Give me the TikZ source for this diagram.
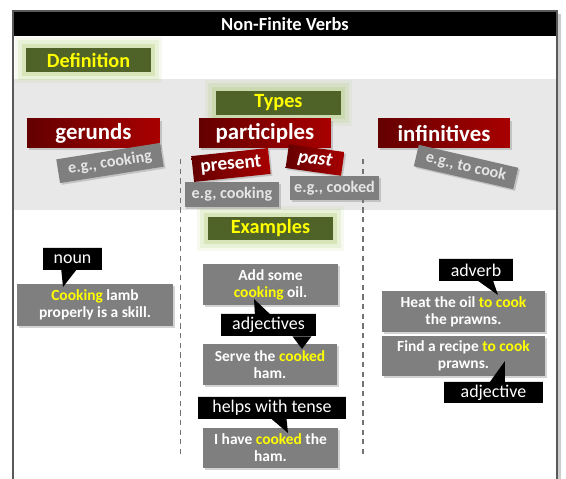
\documentclass[tikz,border=0pt]{standalone}
\usepackage{fontspec}
\setmainfont{Carlito}
\usetikzlibrary{shadows,shapes.callouts}
\definecolor{olivebox}{HTML}{4F6228}
\definecolor{glowgreen}{HTML}{B5CF7E}
\definecolor{hilite}{HTML}{FFFF00}
\definecolor{darkred}{HTML}{640000}
\definecolor{brightred}{HTML}{A80000}
\definecolor{boxgrey}{HTML}{7F7F7F}
\definecolor{bandgrey}{HTML}{E8E8E8}
\newcommand{\keyword}[1]{\textcolor{hilite}{#1}}
\begin{document}
\begin{tikzpicture}[x=0.02cm,y=-0.02cm]
        \tikzstyle{heading}=[fill=olivebox,text=hilite,font=\fontsize{11.5}{13}\selectfont\bfseries,inner sep=0pt,
          preaction={draw=glowgreen,line width=13pt,opacity=.12,rounded corners=6pt},
          preaction={draw=glowgreen,line width=9pt,opacity=.2,rounded corners=4pt},
          preaction={draw=glowgreen,line width=5pt,opacity=.35,rounded corners=2pt}]
        \tikzstyle{kind}=[left color=darkred,right color=brightred,text=white,font=\fontsize{13}{15}\selectfont\bfseries,inner sep=0pt,
          drop shadow={opacity=.35,shadow xshift=1pt,shadow yshift=-1pt}]
        \tikzstyle{sample}=[fill=boxgrey,text=black!10,font=\fontsize{9.2}{11}\selectfont\bfseries,inner sep=0pt,
          drop shadow={opacity=.35,shadow xshift=1pt,shadow yshift=-1pt}]
        \tikzstyle{sentence}=[fill=boxgrey,text=white,font=\fontsize{8.8}{9.8}\selectfont\bfseries,align=center,inner sep=0pt,
          drop shadow={opacity=.35,shadow xshift=1.2pt,shadow yshift=-1.2pt}]
        \tikzstyle{note}=[rectangle callout,fill=black,text=white,font=\fontsize{10.2}{12}\selectfont,inner sep=0pt,callout pointer width=0.3cm]
        \tikzstyle{divider}=[draw=black!55,line width=0.8pt,dash pattern=on 3pt off 2.5pt]
        \useasboundingbox (0,0) rectangle (566,479);
        \begin{scope}
           \fill[bandgrey] (13,79) rectangle (557,210);
           \fill[black] (13,11) rectangle (557,36);
           \draw[black!20,line width=2pt] (559.5,14) -- (559.5,479);
           \draw[black!65,line width=0.8pt] (13,479) -- (13,11) -- (557,11) -- (557,479);
           \node[text=white,font=\fontsize{10.5}{12}\selectfont\bfseries] (title) at (285,24) {Non-Finite Verbs};
        \end{scope}
        \begin{scope}
           \coordinate (d1top) at (180.5,159);
           \coordinate (d1bot) at (180.5,457);
           \coordinate (d2top) at (363,159);
           \coordinate (d2bot) at (363,457);
           \path[divider] (d1top) -- (d1bot);
           \path[divider] (d2top) -- (d2bot);
        \end{scope}
        \begin{scope}
           \node [heading,minimum width=2.5cm,minimum height=0.48cm] (definition) at (88.5,60) {Definition};
           \node [heading,minimum width=2.5cm,minimum height=0.48cm] (types) at (278.5,103) {Types};
           \node [heading,minimum width=2.5cm,minimum height=0.46cm] (examples) at (270.5,228.5) {Examples};
        \end{scope}
        \begin{scope}
           \node [kind,minimum width=2.66cm,minimum height=0.58cm] (gerunds) at (93.5,133.5) {gerunds};
           \node [kind,minimum width=2.64cm,minimum height=0.58cm] (participles) at (265,133.5) {participles};
           \node [kind,minimum width=2.64cm,minimum height=0.58cm] (infinitives) at (444,133.5) {infinitives};
           \node [sample,minimum width=2.1cm,minimum height=0.48cm,rotate=9] (gercook) at (110,163) {e.g., cooking};
           \node [kind,minimum width=1.54cm,minimum height=0.52cm,rotate=6,font=\fontsize{11}{13}\selectfont\bfseries] (present) at (231,165) {present};
           \node [kind,minimum width=1.12cm,minimum height=0.48cm,rotate=-8,font=\fontsize{11}{13}\selectfont\bfseries\itshape] (past) at (315,160) {past};
           \node [sample,minimum width=1.9cm,minimum height=0.5cm] (prescook) at (232,194.5) {e.g, cooking};
           \node [sample,minimum width=1.78cm,minimum height=0.48cm] (pastcook) at (334.5,188) {e.g., cooked};
           \node [sample,minimum width=2.04cm,minimum height=0.44cm,rotate=-13] (infcook) at (466,167) {e.g., to cook};
        \end{scope}
        \begin{scope}
           \node [sentence,minimum width=3.12cm,minimum height=0.84cm] (lamb) at (95,305) {\keyword{Cooking} lamb\\properly is a skill.};
           \node [sentence,minimum width=2.7cm,minimum height=0.82cm] (oil) at (270.5,284.5) {Add some\\\keyword{cooking} oil.};
           \node [sentence,minimum width=2.68cm,minimum height=0.82cm] (ham) at (270,364.5) {Serve the \keyword{cooked}\\ham.};
           \node [sentence,minimum width=2.7cm,minimum height=0.8cm] (tense) at (270.5,448) {I have \keyword{cooked} the\\ham.};
           \node [sentence,minimum width=3.26cm,minimum height=0.82cm] (prawns) at (463.5,311.5) {Heat the oil \keyword{to cook}\\the prawns.};
           \node [sentence,minimum width=3.26cm,minimum height=0.8cm] (recipe) at (463.5,356) {Find a recipe \keyword{to cook}\\prawns.};
        \end{scope}
        \begin{scope}
           \coordinate (nountip) at (63,287);
           \coordinate (adjup) at (254,299);
           \coordinate (adjdown) at (302,349);
           \coordinate (tensetip) at (288,433);
           \coordinate (advtip) at (498,295);
           \coordinate (adjtip) at (505,361);
           \node [note,minimum width=1.18cm,minimum height=0.44cm,callout absolute pointer={(nountip)}] (noun) at (72.5,259) {noun};
           \node [note,minimum width=1.9cm,minimum height=0.44cm,callout absolute pointer={(adjup)}] (adjectives) at (268.5,325) {adjectives};
           \fill[black] ([xshift=0.48cm]adjectives.south) -- (adjdown) -- ([xshift=0.86cm]adjectives.south) -- cycle;
           \node [note,minimum width=2.96cm,minimum height=0.44cm,callout absolute pointer={(tensetip)}] (helps) at (272,408) {helps with tense};
           \node [note,minimum width=1.48cm,minimum height=0.44cm,callout absolute pointer={(advtip)}] (adverb) at (476,270) {adverb};
           \node [note,minimum width=1.98cm,minimum height=0.42cm,callout absolute pointer={(adjtip)}] (adjective) at (493.5,392.5) {adjective};
        \end{scope}
\end{tikzpicture}
\end{document}
